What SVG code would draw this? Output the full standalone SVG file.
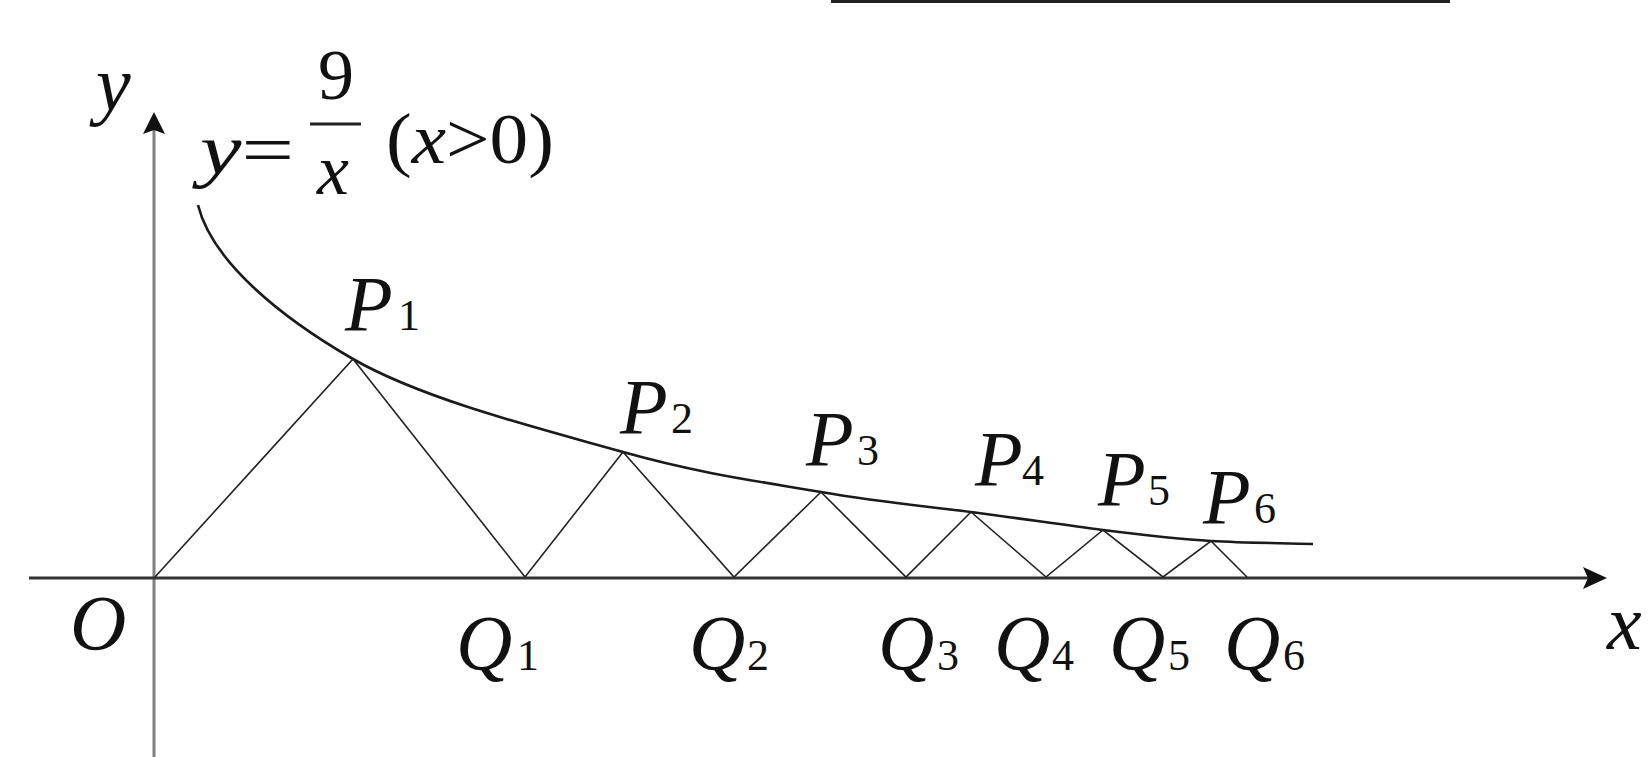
<svg xmlns="http://www.w3.org/2000/svg" width="1648" height="757" viewBox="0 0 1648 757">
<style>
.t{font-family:"Liberation Serif","Times New Roman",serif;fill:#111}
.it{font-style:italic}
.lab{font-size:78px}
.sub{font-size:44px;font-style:normal}
.fm{font-size:72px}
.thin{stroke:#222;stroke-width:1.6;fill:none;stroke-linejoin:miter}
.curve{stroke:#1a1a1a;stroke-width:2.6;fill:none}
</style>
<rect width="1648" height="757" fill="#fff"/>
<line x1="831" y1="1.5" x2="1450" y2="1.5" stroke="#222" stroke-width="3"/>
<g id="axes">
<line x1="154" y1="757" x2="154" y2="128" stroke="#808080" stroke-width="3"/>
<polygon points="154,112 165,134 154,130 143,134" fill="#111"/>
<line x1="29" y1="578" x2="1590" y2="578" stroke="#333" stroke-width="3"/>
<polygon points="1607,578 1583,567 1588,578 1583,589" fill="#111"/>
</g>
<g id="connectors">
<path class="curve" d="M198,205 C212,262 282,318 353,359 C424,400 545,430 623,452 C701,474 763,482 821,492 C879,502 924,506 971,512 C1018,518 1063,525 1103,530 C1143,535 1176,539 1211,541 C1246,543 1279,543 1313,544"/>
<polyline class="thin" points="155,577 353,359 525,577 623,452 734,577 821,492 906,577 971,512 1046,577 1103,530 1163,577 1211,541 1247,577"/>
</g>
<g id="axis-labels">
<text class="t it lab" x="96" y="110">y</text>
<text class="t it lab" x="70" y="649">O</text>
<text class="t it lab" x="1607" y="649">x</text>
</g>
<g id="formula">
<text class="t fm" x="200" y="174" textLength="94" lengthAdjust="spacingAndGlyphs"><tspan class="it">y</tspan>=</text>
<text class="t fm" x="336" y="99" text-anchor="middle" font-size="76">9</text>
<line x1="310" y1="124" x2="361" y2="124" stroke="#222" stroke-width="3"/>
<text class="t fm it" x="333" y="194" text-anchor="middle">x</text>
<text class="t fm" x="386" y="163" textLength="168" lengthAdjust="spacingAndGlyphs">(<tspan class="it">x</tspan>&gt;0)</text>
</g>
<g id="P1"><text class="t it lab" x="345" y="330">P</text><text class="t sub" x="398" y="330">1</text></g>
<g id="P2"><text class="t it lab" x="620" y="433">P</text><text class="t sub" x="671" y="433">2</text></g>
<g id="P3"><text class="t it lab" x="806" y="465">P</text><text class="t sub" x="857" y="465">3</text></g>
<g id="P4"><text class="t it lab" x="975" y="485">P</text><text class="t sub" x="1022" y="485">4</text></g>
<g id="P5"><text class="t it lab" x="1098" y="505">P</text><text class="t sub" x="1148" y="505">5</text></g>
<g id="P6"><text class="t it lab" x="1203" y="523">P</text><text class="t sub" x="1254" y="523">6</text></g>
<g id="Q1"><text class="t it lab" x="456" y="669">Q</text><text class="t sub" x="517" y="670">1</text></g>
<g id="Q2"><text class="t it lab" x="689" y="669">Q</text><text class="t sub" x="747" y="670">2</text></g>
<g id="Q3"><text class="t it lab" x="878" y="669">Q</text><text class="t sub" x="937" y="670">3</text></g>
<g id="Q4"><text class="t it lab" x="994" y="669">Q</text><text class="t sub" x="1052" y="670">4</text></g>
<g id="Q5"><text class="t it lab" x="1109" y="669">Q</text><text class="t sub" x="1168" y="670">5</text></g>
<g id="Q6"><text class="t it lab" x="1224" y="669">Q</text><text class="t sub" x="1283" y="670">6</text></g>
</svg>
